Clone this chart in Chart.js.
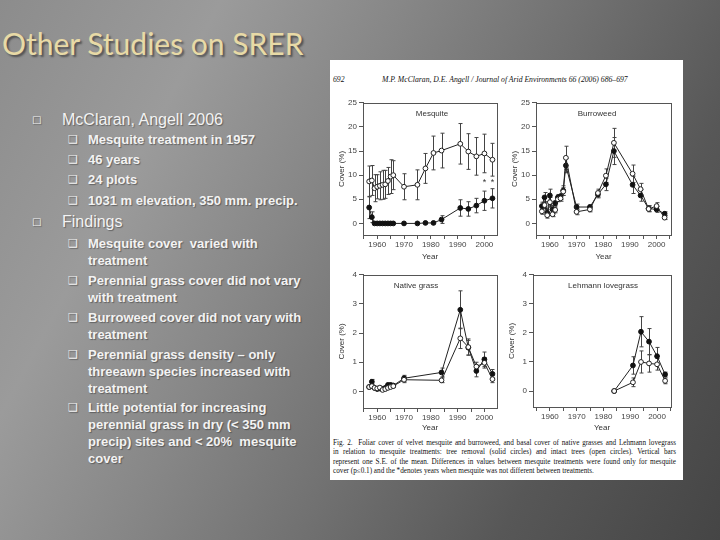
<!DOCTYPE html>
<html>
<head>
<meta charset="utf-8">
<script src="https://cdn.jsdelivr.net/npm/chart.js@4/dist/chart.umd.min.js"></script>
<style>
  html, body { margin: 0; padding: 0; }
  body {
    width: 720px; height: 540px; position: relative; overflow: hidden;
    background: linear-gradient(118deg, #8c8c8c 0%, #9b9b9b 22%, #878787 40%, #717171 58%, #575757 78%, #454545 100%);
    font-family: "Liberation Sans", Arial, sans-serif;
  }
  .title {
    position: absolute; left: 2px; top: 25px;
    font-family: Lato, "Open Sans", sans-serif; font-size: 30px; color: #e8daa6;
    text-shadow: 2px 2px 2px rgba(0,0,0,0.45);
  }
  .main, .sub { position: absolute; color: #f3f3f3; text-shadow: 1px 1px 1px rgba(0,0,0,0.35); }
  .main { left: 62px; font-size: 16px; line-height: 20px; }
  .sub { left: 88px; font-size: 13px; line-height: 17px; font-weight: bold; }
  .main .b { position: absolute; left: -30px; top: 0; font-size: 10px; font-family: "DejaVu Sans"; }
  .sub .b { position: absolute; left: -20px; top: 0; font-size: 11px; font-weight: normal; font-family: "DejaVu Sans"; }
  .figure { position: absolute; left: 330px; top: 60px; width: 353px; height: 420px; background: #fff; }
  canvas { position: absolute; }
  .hdr { position: absolute; top: 75px; font-family: "Liberation Serif", serif; font-style: italic; font-size: 7.7px; color: #111; }
  .caption { position: absolute; left: 333px; top: 439px; width: 343px; font-family: "Liberation Serif", serif; font-size: 7.2px; line-height: 9.3px; color: #111; }
  .caption div { text-align: justify; text-align-last: justify; white-space: nowrap; }
  .caption div.last { text-align-last: left; }
</style>
</head>
<body>
<div class="title">Other Studies on SRER</div>

<div class="main" style="top:110px"><span class="b">□</span>McClaran, Angell 2006</div>
<div class="sub" style="top:131px"><span class="b">❑</span>Mesquite treatment in 1957</div>
<div class="sub" style="top:151px"><span class="b">❑</span>46 years</div>
<div class="sub" style="top:171px"><span class="b">❑</span>24 plots</div>
<div class="sub" style="top:192px"><span class="b">❑</span>1031 m elevation, 350 mm. precip.</div>
<div class="main" style="top:212px"><span class="b">□</span>Findings</div>
<div class="sub" style="top:235px"><span class="b">❑</span>Mesquite cover &nbsp;varied with<br>treatment</div>
<div class="sub" style="top:272px"><span class="b">❑</span>Perennial grass cover did not vary<br>with treatment</div>
<div class="sub" style="top:309px"><span class="b">❑</span>Burroweed cover did not vary with<br>treatment</div>
<div class="sub" style="top:346px"><span class="b">❑</span>Perennial grass density – only<br>threeawn species increased with<br>treatment</div>
<div class="sub" style="top:399px"><span class="b">❑</span>Little potential for increasing<br>perennial grass in dry (&lt; 350 mm<br>precip) sites and &lt; 20% &nbsp;mesquite<br>cover</div>

<div class="figure"></div>
<div class="hdr" style="left:333px">692</div>
<div class="hdr" style="left:382px">M.P. McClaran, D.E. Angell / Journal of Arid Environments 66 (2006) 686–697</div>

<canvas id="mesquiteChart" width="170" height="168" style="left:333px;top:96px"></canvas>
<canvas id="burroweedChart" width="171" height="168" style="left:506px;top:96px"></canvas>
<canvas id="nativeChart" width="170" height="167" style="left:333px;top:268px"></canvas>
<canvas id="lehmannChart" width="174" height="167" style="left:503px;top:268px"></canvas>

<div class="caption">
  <div>Fig. 2. &nbsp;Foliar cover of velvet mesquite and burroweed, and basal cover of native grasses and Lehmann lovegrass</div>
  <div>in relation to mesquite treatments: tree removal (solid circles) and intact trees (open circles). Vertical bars</div>
  <div>represent one S.E. of the mean. Differences in values between mesquite treatments were found only for mesquite</div>
  <div class="last">cover (p≤0.1) and the *denotes years when mesquite was not different between treatments.</div>
</div>

<script>
// Survey years
const longYears = [1957, 1958, 1959, 1960, 1961, 1962, 1963, 1964, 1965, 1966, 1970, 1975, 1978, 1981, 1984, 1991, 1994, 1997, 2000, 2003];
const grassYears = [1957, 1958, 1959, 1960, 1961, 1962, 1963, 1964, 1965, 1966, 1970, 1984, 1991, 1994, 1997, 2000, 2003];
const lehmannYears = [1984, 1991, 1994, 1997, 2000, 2003];

// Mesquite foliar cover (%)
const mesquiteRemoved = [3.3, 1.3, 0, 0, 0, 0, 0, 0, 0, 0, 0, 0, 0.1, 0.1, 0.8, 3.2, 3.0, 3.7, 4.7, 5.2];
const mesquiteRemovedSE = [2.3, 1.1, 0, 0, 0, 0, 0, 0, 0, 0, 0, 0, 0.1, 0.1, 0.8, 1.7, 1.5, 1.5, 2.0, 2.0];
const mesquiteIntact = [8.7, 8.9, 7.3, 7.6, 7.8, 8.0, 8.1, 8.8, 9.7, 10.0, 7.6, 8.0, 11.4, 14.6, 15.1, 16.5, 14.9, 13.9, 14.5, 13.2];
const mesquiteIntactSE = [3.2, 3.1, 2.8, 2.5, 2.9, 3.0, 2.9, 2.8, 3.5, 3.0, 2.7, 3.1, 3.1, 3.5, 3.6, 4.2, 3.7, 3.9, 4.0, 3.4];
const mesquiteStarYears = [2000, 2003];
const mesquiteStarLevel = 8.4;

// Burroweed foliar cover (%)
const burroRemoved = [3.6, 5.4, 2.2, 5.8, 2.9, 4.2, 5.4, 5.6, 6.8, 12.0, 3.4, 3.4, 6.0, 8.1, 15.0, 8.0, 5.8, 3.1, 2.9, 2.0];
const burroRemovedSE = [0.8, 1.0, 0.6, 1.3, 0.8, 0.5, 0.6, 0.6, 1.0, 1.5, 0.6, 0.4, 0.7, 1.3, 2.8, 1.8, 1.2, 0.6, 0.6, 0.4];
const burroIntact = [2.5, 3.8, 1.7, 4.4, 1.9, 2.8, 5.0, 5.2, 6.6, 13.6, 2.4, 2.9, 6.3, 9.9, 16.7, 10.3, 7.1, 3.0, 3.6, 1.2];
const burroIntactSE = [0.6, 0.7, 0.6, 1.0, 0.5, 0.6, 0.5, 0.6, 0.8, 2.4, 0.6, 0.5, 0.8, 1.4, 3.0, 1.8, 1.2, 0.6, 0.7, 0.4];

// Native grass basal cover (%)
const nativeRemoved = [0.15, 0.33, 0.12, 0.08, 0.1, 0.08, 0.12, 0.22, 0.22, 0.2, 0.45, 0.65, 2.8, 1.5, 0.7, 1.1, 0.6];
const nativeRemovedSE = [0.04, 0.08, 0.04, 0.03, 0.04, 0.03, 0.04, 0.06, 0.06, 0.05, 0.1, 0.15, 0.65, 0.25, 0.2, 0.25, 0.15];
const nativeIntact = [0.15, 0.18, 0.12, 0.1, 0.13, 0.05, 0.08, 0.12, 0.15, 0.18, 0.4, 0.38, 1.82, 1.52, 0.85, 0.98, 0.42];
const nativeIntactSE = [0.04, 0.05, 0.04, 0.03, 0.04, 0.03, 0.03, 0.04, 0.05, 0.05, 0.1, 0.08, 0.35, 0.28, 0.15, 0.18, 0.12];

// Lehmann lovegrass basal cover (%)
const lehmannRemoved = [0, 0.88, 2.04, 1.7, 1.2, 0.57];
const lehmannRemovedSE = [0, 0.3, 0.52, 0.45, 0.3, 0.08];
const lehmannIntact = [0, 0.3, 1.0, 0.95, 0.92, 0.35];
const lehmannIntactSE = [0, 0.15, 0.38, 0.3, 0.2, 0.1];

// Axis ticks
const yearTicks = [1955, 1960, 1965, 1970, 1975, 1980, 1985, 1990, 1995, 2000, 2005];
const shrubTicks = [0, 5, 10, 15, 20, 25];
const grassTicks = [0, 1, 2, 3, 4];

const INK = '#222';
const AXIS = '#555';

// error bars go under the points
const errorBars = {
    id: 'errorBars',
    beforeDatasetsDraw(chart) {
        const { ctx, scales: { x, y } } = chart;
        ctx.save();
        ctx.strokeStyle = '#444';
        ctx.lineWidth = 1;
        chart.data.datasets.forEach(ds => {
            ds.data.forEach((p, i) => {
                const se = ds.se[i];
                if (!se) return;
                const px = Math.round(x.getPixelForValue(p.x)) + 0.5;
                const top = y.getPixelForValue(p.y + se);
                const bot = y.getPixelForValue(p.y - se);
                ctx.beginPath();
                ctx.moveTo(px, top); ctx.lineTo(px, bot);
                ctx.moveTo(px - 2, top); ctx.lineTo(px + 2, top);
                ctx.moveTo(px - 2, bot); ctx.lineTo(px + 2, bot);
                ctx.stroke();
            });
        });
        ctx.restore();
    }
};

// box around plot, panel label, significance stars
const panelDecor = {
    id: 'panelDecor',
    afterDraw(chart, args, opts) {
        const { ctx, chartArea: a, scales: { x, y } } = chart;
        ctx.save();
        ctx.strokeStyle = AXIS;
        ctx.lineWidth = 1;
        ctx.strokeRect(Math.round(a.left) + 0.5, Math.round(a.top) + 0.5, Math.round(a.right - a.left), Math.round(a.bottom - a.top));
        ctx.fillStyle = '#333';
        ctx.font = '8px "Liberation Sans", Arial';
        ctx.textAlign = 'center';
        ctx.textBaseline = 'middle';
        ctx.fillText(opts.label, opts.labelX, a.top + 11);
        ctx.font = '9px "Liberation Sans", Arial';
        (opts.stars || []).forEach(yr => {
            ctx.fillText('*', x.getPixelForValue(yr), y.getPixelForValue(opts.starLevel));
        });
        ctx.restore();
    }
};

function makePanel(id, years, removed, removedSE, intact, intactSE, cfg) {
    const pts = vals => vals.map((v, i) => ({ x: years[i], y: v }));
    const ctx = document.getElementById(id).getContext('2d');
    return new Chart(ctx, {
        type: 'scatter',
        data: {
            datasets: [{
                // intact trees - open circles, drawn on top
                data: pts(intact), se: intactSE, showLine: true,
                borderColor: INK, borderWidth: 1,
                pointBackgroundColor: '#fff', pointBorderColor: INK, pointBorderWidth: 1, pointRadius: 2.4
            }, {
                // tree removal - solid circles
                data: pts(removed), se: removedSE, showLine: true,
                borderColor: INK, borderWidth: 1,
                pointBackgroundColor: '#111', pointBorderColor: '#111', pointBorderWidth: 1, pointRadius: 2.4
            }]
        },
        options: {
            responsive: false,
            animation: false,
            devicePixelRatio: 1,
            layout: { padding: { top: 5, right: cfg.padRight, left: 0, bottom: 0 } },
            plugins: {
                legend: { display: false },
                tooltip: { enabled: false },
                panelDecor: { label: cfg.label, labelX: cfg.labelX, stars: cfg.stars, starLevel: cfg.starLevel }
            },
            scales: {
                x: {
                    type: 'linear', min: cfg.xMin, max: cfg.xMax,
                    afterBuildTicks: s => { s.ticks = yearTicks.filter(v => v >= cfg.xMin && v <= cfg.xMax).map(v => ({ value: v })); },
                    afterFit: s => { s.height = cfg.xHeight; },
                    grid: { drawOnChartArea: false, tickLength: 4, color: AXIS },
                    border: { color: AXIS },
                    ticks: {
                        autoSkip: false, maxRotation: 0, padding: 1, color: '#444',
                        font: { size: 8, family: '"Liberation Sans", Arial' },
                        callback: v => (v % 10 === 0 ? String(v) : '')
                    },
                    title: { display: true, text: 'Year', color: '#333', padding: { top: 0, bottom: 2 }, font: { size: 8, family: '"Liberation Sans", Arial' } }
                },
                y: {
                    min: cfg.yMin, max: cfg.yMax,
                    afterBuildTicks: s => { s.ticks = cfg.yTicks.map(v => ({ value: v })); },
                    afterFit: s => { s.width = 30; },
                    grid: { drawOnChartArea: false, tickLength: 4, color: AXIS },
                    border: { color: AXIS },
                    ticks: { autoSkip: false, padding: 2, color: '#444', font: { size: 8, family: '"Liberation Sans", Arial' } },
                    title: { display: true, text: 'Cover (%)', color: '#333', padding: { top: 4, bottom: 0 }, font: { size: 8, family: '"Liberation Sans", Arial' } }
                }
            }
        },
        plugins: [errorBars, panelDecor]
    });
}

window.onload = function() {
    makePanel('mesquiteChart', longYears, mesquiteRemoved, mesquiteRemovedSE, mesquiteIntact, mesquiteIntactSE, {
        label: 'Mesquite', labelX: 99, stars: mesquiteStarYears, starLevel: mesquiteStarLevel,
        xMin: 1954.7, xMax: 2004.7, yMin: -2.4, yMax: 25, yTicks: shrubTicks, padRight: 6, xHeight: 29
    });
    makePanel('burroweedChart', longYears, burroRemoved, burroRemovedSE, burroIntact, burroIntactSE, {
        label: 'Burroweed', labelX: 91,
        xMin: 1954.8, xMax: 2005.4, yMin: -2.4, yMax: 25, yTicks: shrubTicks, padRight: 6, xHeight: 29
    });
    makePanel('nativeChart', grassYears, nativeRemoved, nativeRemovedSE, nativeIntact, nativeIntactSE, {
        label: 'Native grass', labelX: 83,
        xMin: 1954.7, xMax: 2004.7, yMin: -0.57, yMax: 4, yTicks: grassTicks, padRight: 6, xHeight: 27
    });
    makePanel('lehmannChart', lehmannYears, lehmannRemoved, lehmannRemovedSE, lehmannIntact, lehmannIntactSE, {
        label: 'Lehmann lovegrass', labelX: 100,
        xMin: 1953.7, xMax: 2005.2, yMin: -0.55, yMax: 4, yTicks: grassTicks, padRight: 6, xHeight: 28
    });
};
</script>
</body>
</html>
